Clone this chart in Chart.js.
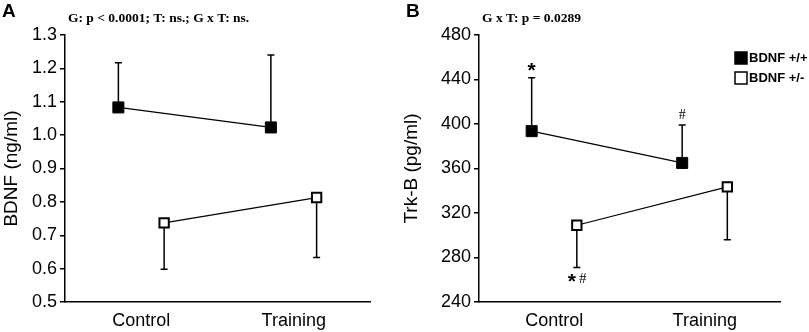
<!DOCTYPE html>
<html>
<head>
<meta charset="utf-8">
<script src="https://cdn.jsdelivr.net/npm/chart.js@4.4.0/dist/chart.umd.min.js"></script>
<style>
  html, body { margin: 0; padding: 0; background: #fff; }
  #wrap { position: relative; width: 809px; height: 332px; }
  canvas { position: absolute; top: 0; }
</style>
</head>
<body>
<div id="wrap">
  <canvas id="chartA" width="400" height="332" style="left:0"></canvas>
  <canvas id="chartB" width="409" height="332" style="left:400px"></canvas>
</div>
<script>
// groups on the x axis
const categories = ['Control', 'Training'];
const groupNames = ['BDNF +/+', 'BDNF +/-'];

// panel A: BDNF (ng/ml), mean and end of error bar
const bdnfWT = [1.083, 1.023];
const bdnfWTErr = [1.217, 1.24];
const bdnfHet = [0.737, 0.813];
const bdnfHetErr = [0.598, 0.633];
const bdnfTicks = [0.5, 0.6, 0.7, 0.8, 0.9, 1.0, 1.1, 1.2, 1.3];

// panel B: Trk-B (pg/ml)
const trkWT = [393.6, 365];
const trkWTErr = [441.6, 399];
const trkHet = [309, 343.5];
const trkHetErr = [271, 296];
const trkTicks = [240, 280, 320, 360, 400, 440, 480];

// significance marks on panel B: [group, category index, text]
const trkMarks = [
  [0, 0, '*'],
  [0, 1, '#'],
  [1, 0, '*#']
];

const statsA = 'G: p < 0.0001; T: ns.; G x T: ns.';
const statsB = 'G x T: p = 0.0289';

const SANS = '"Liberation Sans", Arial, sans-serif';
const SERIF = '"Liberation Serif", "Times New Roman", serif';

// category i -> x position, groups shifted left/right
const xPos = (i, g) => 1 + 2 * i + (g === 0 ? -0.3 : 0.3);
const toPoints = (arr, g) => arr.map((v, i) => ({ x: xPos(i, g), y: v }));

const errorBars = {
  id: 'errorBars',
  beforeDatasetsDraw(chart) {
    const { ctx, scales } = chart;
    ctx.save();
    ctx.strokeStyle = '#000';
    ctx.lineWidth = 1.5;
    chart.data.datasets.forEach(ds => {
      ds.data.forEach((p, i) => {
        const x = scales.x.getPixelForValue(p.x);
        const y0 = scales.y.getPixelForValue(p.y);
        const y1 = scales.y.getPixelForValue(ds.errEnds[i]);
        ctx.beginPath();
        ctx.moveTo(x, y0);
        ctx.lineTo(x, y1);
        ctx.moveTo(x - 3.5, y1);
        ctx.lineTo(x + 3.5, y1);
        ctx.stroke();
      });
    });
    ctx.restore();
  }
};

const extras = {
  id: 'extras',
  afterDraw(chart, args, opts) {
    const { ctx, scales } = chart;
    ctx.save();
    ctx.fillStyle = '#000';
    ctx.textBaseline = 'middle';
    ctx.textAlign = 'left';
    ctx.font = 'bold 19px ' + SANS;
    ctx.fillText(opts.letter, opts.letterX, 12);
    ctx.font = 'bold 13.5px ' + SERIF;
    ctx.fillText(opts.stats, opts.statsX, 19);

    (opts.marks || []).forEach(([g, i, txt]) => {
      const ds = chart.data.datasets[g];
      const x = scales.x.getPixelForValue(ds.data[i].x);
      const yEnd = scales.y.getPixelForValue(ds.errEnds[i]);
      const up = ds.errEnds[i] > ds.data[i].y;
      const y = up ? yEnd - 10 : yEnd + 12;
      ctx.textAlign = 'center';
      if (txt === '*') {
        ctx.font = 'bold 21px ' + SANS;
        ctx.fillText('*', x, y + 3);
      } else if (txt === '#') {
        ctx.font = '14px ' + SERIF;
        ctx.fillText('#', x, y);
      } else {
        ctx.font = 'bold 21px ' + SANS;
        ctx.fillText('*', x - 5, y + 3);
        ctx.font = '15px ' + SERIF;
        ctx.fillText('#', x + 6, y);
      }
    });

    if (opts.legend) {
      ctx.textAlign = 'left';
      ctx.font = 'bold 13px ' + SANS;
      chart.data.datasets.forEach((ds, k) => {
        const ly = 58 + k * 20;
        const lx = opts.legendX;
        ctx.fillStyle = ds.backgroundColor;
        ctx.fillRect(lx, ly - 6, 12, 12);
        ctx.strokeStyle = '#000';
        ctx.lineWidth = 1.5;
        ctx.strokeRect(lx, ly - 6, 12, 12);
        ctx.fillStyle = '#000';
        ctx.fillText(ds.label, lx + 14, ly);
      });
    }
    ctx.restore();
  }
};

function makeChart(id, cfg) {
  const datasets = [
    {
      label: groupNames[0],
      data: toPoints(cfg.wt, 0),
      errEnds: cfg.wtErr,
      backgroundColor: '#000',
      borderColor: '#000',
      pointBorderColor: '#000',
      pointBackgroundColor: '#000',
      pointStyle: 'rect',
      pointRadius: 7.8,
      pointBorderWidth: 1,
      borderWidth: 1.2,
      showLine: true
    },
    {
      label: groupNames[1],
      data: toPoints(cfg.het, 1),
      errEnds: cfg.hetErr,
      backgroundColor: '#fff',
      borderColor: '#000',
      pointBorderColor: '#000',
      pointBackgroundColor: '#fff',
      pointStyle: 'rect',
      pointRadius: 6.6,
      pointBorderWidth: 2,
      borderWidth: 1.2,
      showLine: true
    }
  ];

  return new Chart(document.getElementById(id), {
    type: 'scatter',
    data: { datasets },
    options: {
      responsive: false,
      animation: false,
      layout: { padding: { left: 0, top: 35, right: cfg.padRight, bottom: 0 } },
      plugins: {
        legend: { display: false },
        tooltip: { enabled: false },
        extras: cfg.extras
      },
      scales: {
        x: {
          type: 'linear',
          min: 0,
          max: 4,
          afterBuildTicks: s => { s.ticks = [0, 1, 3, 4].map(v => ({ value: v })); },
          afterFit: s => { s.height = 30; },
          ticks: {
            autoSkip: false,
            maxRotation: 0,
            padding: 8,
            color: '#000',
            font: { family: SANS, size: 18 },
            callback: v => (v === 1 ? categories[0] : v === 3 ? categories[1] : '')
          },
          grid: { display: false, drawTicks: false },
          border: { color: '#000', width: 1.5 }
        },
        y: {
          min: cfg.ticks[0],
          max: cfg.ticks[cfg.ticks.length - 1],
          afterBuildTicks: s => { s.ticks = cfg.ticks.map(v => ({ value: v })); },
          afterFit: s => { s.width = cfg.axisX; },
          ticks: {
            padding: 3,
            color: '#000',
            font: { family: SANS, size: 18 },
            callback: cfg.fmt
          },
          grid: { drawOnChartArea: false, tickLength: 5, color: '#000', lineWidth: 1.5 },
          border: { color: '#000', width: 1.5 },
          title: {
            display: true,
            text: cfg.title,
            color: '#000',
            font: { family: SANS, size: 19 },
            padding: { top: 0, bottom: 4 }
          }
        }
      }
    },
    plugins: [errorBars, extras]
  });
}

makeChart('chartA', {
  wt: bdnfWT, wtErr: bdnfWTErr, het: bdnfHet, hetErr: bdnfHetErr,
  ticks: bdnfTicks, fmt: v => v.toFixed(1), title: 'BDNF (ng/ml)',
  axisX: 65, padRight: 30,
  extras: { letter: 'A', letterX: 2, stats: statsA, statsX: 68 }
});

makeChart('chartB', {
  wt: trkWT, wtErr: trkWTErr, het: trkHet, hetErr: trkHetErr,
  ticks: trkTicks, fmt: v => String(v), title: 'Trk-B (pg/ml)',
  axisX: 79, padRight: 29,
  extras: { letter: 'B', letterX: 6, stats: statsB, statsX: 82, marks: trkMarks, legend: true, legendX: 335 }
});
</script>
</body>
</html>
